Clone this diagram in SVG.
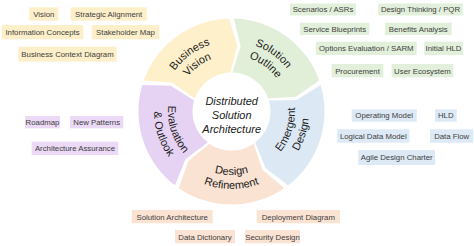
<svg xmlns="http://www.w3.org/2000/svg" width="474" height="246" viewBox="0 0 474 246">
<style>
.seg{stroke:none}
.st{font-family:"Liberation Sans",Arial,sans-serif;font-size:11px;fill:#1a1a1a;text-anchor:middle}
.ct{font-family:"Liberation Sans",Arial,sans-serif;font-size:11px;font-style:italic;fill:#1a1a1a;text-anchor:middle}
.lt{font-family:"Liberation Sans",Arial,sans-serif;font-size:7.8px;fill:#404040;text-anchor:middle}
.by{fill:#fdefc9}.bg{fill:#e2efda}.bb{fill:#dde9f5}.bp{fill:#ebd9f5}.bo{fill:#fbe3d3}
</style>
<defs>
<path id="pBV1" d="M161.67,106.62 A70,70 0 0 1 248.43,43.58"/>
<path id="pBV2" d="M175.64,107.59 A56,56 0 0 1 245.05,57.16"/>
<path id="pSO1" d="M214.57,43.58 A70,70 0 0 1 301.33,106.62"/>
<path id="pSO2" d="M217.95,57.16 A56,56 0 0 1 287.36,107.59"/>
<path id="pED1" d="M255.29,170.38 A63.5,63.5 0 0 0 285.35,77.85"/>
<path id="pED2" d="M260.53,183.36 A77.5,77.5 0 0 0 297.22,70.43"/>
<path id="pDR1" d="M182.86,152.32 A63.5,63.5 0 0 0 280.14,152.32"/>
<path id="pDR2" d="M172.13,161.32 A77.5,77.5 0 0 0 290.87,161.32"/>
<path id="pEO1" d="M177.65,77.85 A63.5,63.5 0 0 0 207.71,170.38"/>
<path id="pEO2" d="M165.78,70.43 A77.5,77.5 0 0 0 202.47,183.36"/>
</defs>
<rect width="474" height="246" fill="#ffffff"/>

<g id="business-vision">
<path class="seg" fill="#fdf0cb" d="M143.83,80.46 A93,93 0 0 1 229.07,18.53 L237.25,45.75 L230.48,72.51 A39,39 0 0 0 194.74,98.48 L172.18,82.57 Z"/>
<text class="st"><textPath href="#pBV1" startOffset="50%">Business</textPath></text>
<text class="st"><textPath href="#pBV2" startOffset="50%">Vision</textPath></text>
</g>
<g id="solution-outline">
<path class="seg" fill="#e1eed8" d="M233.93,18.53 A93,93 0 0 1 319.17,80.46 L295.81,96.65 L268.26,98.48 A39,39 0 0 0 232.52,72.51 L240.69,46.14 Z"/>
<text class="st"><textPath href="#pSO1" startOffset="50%">Solution</textPath></text>
<text class="st"><textPath href="#pSO2" startOffset="50%">Outline</textPath></text>
</g>
<g id="emergent-design">
<path class="seg" fill="#dce9f5" d="M320.67,85.09 A93,93 0 0 1 288.12,185.28 L265.49,168.07 L255.24,142.44 A39,39 0 0 0 268.89,100.42 L296.50,100.04 Z"/>
<text class="st"><textPath href="#pED1" startOffset="50%">Emergent</textPath></text>
<text class="st"><textPath href="#pED2" startOffset="50%">Design</textPath></text>
</g>
<g id="design-refinement">
<path class="seg" fill="#fae3d3" d="M284.18,188.14 A93,93 0 0 1 178.82,188.14 L188.20,161.31 L209.41,143.64 A39,39 0 0 0 253.59,143.64 L262.49,169.77 Z"/>
<text class="st"><textPath href="#pDR1" startOffset="50%">Design</textPath></text>
<text class="st"><textPath href="#pDR2" startOffset="50%">Refinement</textPath></text>
</g>
<g id="evaluation-outlook">
<path class="seg" fill="#e6d2f3" d="M174.89,185.28 A93,93 0 0 1 142.33,85.09 L170.75,85.71 L194.11,100.42 A39,39 0 0 0 207.76,142.44 L185.65,158.98 Z"/>
<text class="st"><textPath href="#pEO1" startOffset="50%">Evaluation</textPath></text>
<text class="st"><textPath href="#pEO2" startOffset="50%">&amp; Outlook</textPath></text>
</g>
<g id="center">
<text class="ct" x="231.7" y="105">Distributed</text>
<text class="ct" x="231.7" y="119">Solution</text>
<text class="ct" x="231.7" y="133">Architecture</text>
</g>

<g id="vision-items">
<g id="vision"><rect class="by" x="29.3" y="7.3" width="29" height="13.4"/><text class="lt" x="43.8" y="16.8">Vision</text></g>
<g id="strategic-alignment"><rect class="by" x="70.7" y="7.3" width="76" height="13.4"/><text class="lt" x="108.7" y="16.8">Strategic Alignment</text></g>
<g id="information-concepts"><rect class="by" x="1.7" y="25" width="81.6" height="14.3"/><text class="lt" x="42.5" y="35">Information Concepts</text></g>
<g id="stakeholder-map"><rect class="by" x="91.7" y="25" width="67.6" height="14.3"/><text class="lt" x="125.5" y="35">Stakeholder Map</text></g>
<g id="business-context-diagram"><rect class="by" x="18.3" y="46.7" width="98.4" height="15"/><text class="lt" x="67.5" y="57">Business Context Diagram</text></g>
</g>
<g id="outline-items">
<g id="scenarios"><rect class="bg" x="290" y="3.5" width="66" height="12"/><text class="lt" x="323" y="12.3">Scenarios / ASRs</text></g>
<g id="design-thinking"><rect class="bg" x="378.3" y="3.5" width="84.4" height="12"/><text class="lt" x="420.5" y="12.3">Design Thinking / PQR</text></g>
<g id="service-blueprints"><rect class="bg" x="300" y="22.7" width="69.3" height="12.3"/><text class="lt" x="334.7" y="31.6">Service Blueprints</text></g>
<g id="benefits-analysis"><rect class="bg" x="385" y="22.7" width="66.7" height="12.3"/><text class="lt" x="418.3" y="31.6">Benefits Analysis</text></g>
<g id="options-evaluation"><rect class="bg" x="316" y="41.7" width="100.7" height="13.3"/><text class="lt" x="366.3" y="51.1">Options Evaluation / SARM</text></g>
<g id="initial-hld"><rect class="bg" x="424.3" y="41.7" width="38.4" height="13.3"/><text class="lt" x="443.5" y="51.1">Initial HLD</text></g>
<g id="procurement"><rect class="bg" x="331.7" y="64" width="51.6" height="13.3"/><text class="lt" x="357.5" y="73.5">Procurement</text></g>
<g id="user-ecosystem"><rect class="bg" x="391.7" y="64" width="61.6" height="13.3"/><text class="lt" x="422.5" y="73.5">User Ecosystem</text></g>
</g>
<g id="emergent-items">
<g id="operating-model"><rect class="bb" x="351.7" y="109.3" width="65" height="12.4"/><text class="lt" x="384.2" y="118.3">Operating Model</text></g>
<g id="hld"><rect class="bb" x="435" y="109.3" width="21.7" height="12.4"/><text class="lt" x="445.8" y="118.3">HLD</text></g>
<g id="logical-data-model"><rect class="bb" x="337.3" y="129.3" width="72" height="13.4"/><text class="lt" x="373.3" y="138.8">Logical Data Model</text></g>
<g id="data-flow"><rect class="bb" x="430" y="129.3" width="43.3" height="13.4"/><text class="lt" x="451.7" y="138.8">Data Flow</text></g>
<g id="agile-design-charter"><rect class="bb" x="358.3" y="150" width="76.7" height="15"/><text class="lt" x="396.7" y="160.3">Agile Design Charter</text></g>
</g>
<g id="evaluation-items">
<g id="roadmap"><rect class="bp" x="25" y="116" width="35" height="12.3"/><text class="lt" x="42.5" y="125">Roadmap</text></g>
<g id="new-patterns"><rect class="bp" x="70" y="116" width="53.3" height="12.3"/><text class="lt" x="96.7" y="125">New Patterns</text></g>
<g id="architecture-assurance"><rect class="bp" x="31.7" y="141.7" width="86.6" height="13.3"/><text class="lt" x="75" y="151.1">Architecture Assurance</text></g>
</g>
<g id="refinement-items">
<g id="solution-architecture"><rect class="bo" x="131.7" y="210" width="81" height="13.3"/><text class="lt" x="172.2" y="219.5">Solution Architecture</text></g>
<g id="deployment-diagram"><rect class="bo" x="256.7" y="210" width="83.3" height="13.3"/><text class="lt" x="298.3" y="219.5">Deployment Diagram</text></g>
<g id="data-dictionary"><rect class="bo" x="175" y="230" width="60" height="13.3"/><text class="lt" x="205" y="239.5">Data Dictionary</text></g>
<g id="security-design"><rect class="bo" x="245" y="230" width="55" height="13.3"/><text class="lt" x="272.5" y="239.5">Security Design</text></g>
</g>
<g id="connectors"></g>
</svg>
